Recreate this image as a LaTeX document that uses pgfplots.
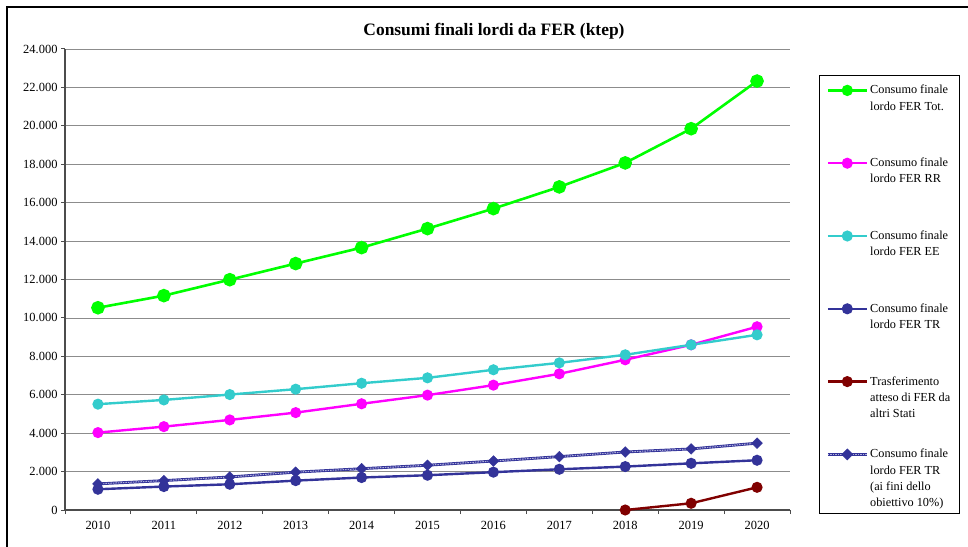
\documentclass[border=0pt]{standalone}
\usepackage{fontspec}
\setmainfont{Liberation Serif}
\usepackage{pgfplots}
\usepackage{pgfplotstable}
\pgfplotsset{compat=1.18}
\definecolor{cTot}{RGB}{0,255,0}
\definecolor{cRR}{RGB}{255,0,255}
\definecolor{cEE}{RGB}{51,204,204}
\definecolor{cTR}{RGB}{51,51,153}
\definecolor{cTF}{RGB}{128,0,0}
\definecolor{cTRl}{RGB}{175,175,220}
\newcommand{\legtxt}[1]{\parbox[t]{80bp}{#1}}
\pgfplotsset{
  mylegimg/.style={legend image code/.code={\draw[mark repeat=2,mark phase=2,##1] plot coordinates {(0bp,3.5bp) (19.5bp,3.5bp) (39bp,3.5bp)};}},
  trlegimg/.style={legend image code/.code={
    \draw[cTR, line width=2.8bp] (0bp,3.5bp) -- (39bp,3.5bp);
    \draw[cTRl, line width=1bp, dash pattern=on 1.5bp off 1bp] (0bp,3.5bp) -- (39bp,3.5bp);
    \draw[##1, mark repeat=2, mark phase=2] plot coordinates {(0bp,3.5bp) (19.5bp,3.5bp) (39bp,3.5bp)};}},
}
\pgfplotstableread{
x tot rr ee tr tr10
0 10530 4030 5510 1080 1360
1 11160 4340 5730 1220 1530
2 11990 4690 6010 1340 1720
3 12830 5070 6290 1530 1970
4 13660 5530 6600 1690 2150
5 14650 5980 6880 1810 2330
6 15690 6500 7300 1970 2550
7 16820 7090 7660 2120 2780
8 18070 7820 8080 2260 3020
9 19850 8600 8600 2430 3180
10 22330 9540 9120 2590 3480
}\data
\pgfplotstableread{
x tf
8 0
9 350
10 1180
}\datatf
\begin{document}
\begin{tikzpicture}
\path[use as bounding box] (0bp,0bp) rectangle (968bp,547bp);
\draw[black, line width=1.4bp] (7bp,-30bp) rectangle (1000bp,540bp);
\begin{axis}[
  at={(65bp,37bp)}, anchor=south west,
  scale only axis, width=725bp, height=461bp,
  xmin=-0.5, xmax=10.5, ymin=0, ymax=24000,
  enlargelimits=false, clip=false,
  axis x line*=bottom, axis y line*=left,
  axis line style={draw=black!70, line width=1.1bp},
  xtick={0,...,10},
  xticklabels={2010,2011,2012,2013,2014,2015,2016,2017,2018,2019,2020},
  minor xtick={-0.5,0.5,...,10.5},
  major x tick style={draw=none},
  ytick={0,2000,...,24000},
  scaled y ticks=false,
  tick align=outside, major tick length=4bp, minor tick length=4bp,
  every tick/.style={black!70, line width=1bp},
  ymajorgrids, grid style={black!45, line width=0.8bp},
  /pgf/number format/assume math mode=true,
  /pgf/number format/fixed,
  /pgf/number format/1000 sep={.},
  tick label style={font=\fontsize{12.5}{14}\selectfont},
  xticklabel style={yshift=-4bp},
  title={Consumi finali lordi da FER (ktep)},
  title style={at={(0.5917,1.026)}, anchor=center, font=\fontsize{17.5}{20}\selectfont\bfseries},
  mylegimg,
  legend style={at={(1.04,0.9436)}, anchor=north west, draw=black, line width=0.8bp,
    inner xsep=7bp, inner ysep=7.9bp, row sep=14.8bp,
    cells={anchor=base west}, nodes={inner sep=2bp, text height=8.6bp, text depth=45.4bp},
    font=\fontsize{12.3}{16.3}\selectfont},
]
\addplot[cTot, line width=2.6bp, mark=*, mark size=5.5bp, mark options={solid}, legend image post style={mark size=4.3bp}] table[x=x,y=tot]{\data};
\addlegendentry{\legtxt{Consumo finale\\lordo FER Tot.}}
\addplot[cRR, line width=2.4bp, mark=*, mark size=4.3bp] table[x=x,y=rr]{\data};
\addlegendentry{\legtxt{Consumo finale\\lordo FER RR}}
\addplot[cEE, line width=2.4bp, mark=*, mark size=4.3bp] table[x=x,y=ee]{\data};
\addlegendentry{\legtxt{Consumo finale\\lordo FER EE}}
\addplot[cTR, line width=2.4bp, mark=*, mark size=4.3bp] table[x=x,y=tr]{\data};
\addlegendentry{\legtxt{Consumo finale\\lordo FER TR}}
\addplot[cTF, line width=2.4bp, mark=*, mark size=4.3bp] table[x=x,y=tf]{\datatf};
\addlegendentry{\legtxt{Trasferimento\\atteso di FER da\\altri Stati}}
\addplot[cTR, line width=2.8bp, forget plot] table[x=x,y=tr10]{\data};
\addplot[cTRl, line width=1bp, dash pattern=on 1.5bp off 1bp, forget plot] table[x=x,y=tr10]{\data};
\addplot[cTR, only marks, mark=square*, mark size=3.8bp, mark options={rotate=45}, trlegimg] table[x=x,y=tr10]{\data};
\addlegendentry{\legtxt{Consumo finale\\lordo FER TR\\(ai fini dello\\obiettivo 10\%)}}
\end{axis}
\end{tikzpicture}
\end{document}
